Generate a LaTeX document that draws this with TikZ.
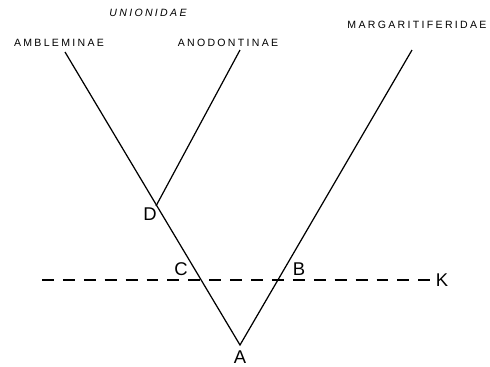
\documentclass[tikz,border=0pt]{standalone}
\usepackage{fontspec}
\setmainfont{Liberation Sans}
\newfontfamily\taxfont[LetterSpace=22]{Liberation Sans}
\begin{document}
\begin{tikzpicture}[x=0.02cm,y=-0.02cm,
  taxon/.style={font=\taxfont\fontsize{6}{7}\selectfont, inner sep=0pt},
  pt/.style={font=\fontsize{10.5}{11}\selectfont, inner sep=0pt},
  branch/.style={line width=0.7pt},
  level/.style={line width=0.6pt, dash pattern=on 6.8pt off 5.1pt}]
  \useasboundingbox (0,0) rectangle (490,366);
  \coordinate (a) at (240,345);
  \coordinate (d) at (156,206);
  \coordinate (amb) at (65,52);
  \coordinate (ano) at (240,50);
  \coordinate (mar) at (412,50);
  \coordinate (kstart) at (42,280);
  \node[taxon, font=\taxfont\itshape\fontsize{6}{7}\selectfont] (uni) at (148,13) {UNIONIDAE};
  \node[taxon] (ambl) at (59,43) {AMBLEMINAE};
  \node[taxon] (anod) at (228,43) {ANODONTINAE};
  \node[taxon] (marg) at (417,25) {MARGARITIFERIDAE};
  \node[pt] (A) at (240,357) {A};
  \node[pt] (D) at (150,214) {D};
  \node[pt] (C) at (181,269) {C};
  \node[pt] (B) at (299,269) {B};
  \node[pt] (K) at (442,280) {K};
  \draw[branch] (amb) -- (a) -- (mar);
  \draw[branch] (d) -- (ano);
  \draw[level] (kstart) -- (K.west);
\end{tikzpicture}
\end{document}
